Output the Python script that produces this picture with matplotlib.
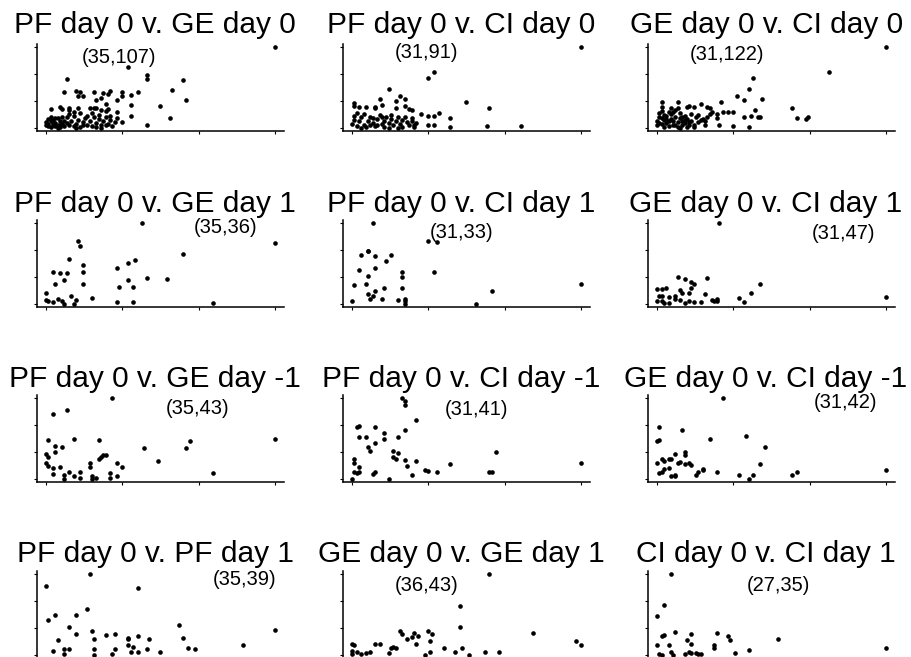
import matplotlib
matplotlib.use("Agg")
import matplotlib.pyplot as plt

plt.rcParams['font.family'] = ['Liberation Sans', 'DejaVu Sans']

# values, scaled 0..100 of each panel's range
pf0_ge0_x = [100, 36, 44, 44, 9, 60, 55, 61, 8, 13,
             15, 14, 16, 21, 25, 22, 24, 28, 27, 33,
             33, 37, 40, 31, 37, 26, 50, 37, 31, 54,
             44, 33, 2, 6, 7, 10, 10, 14, 19, 21,
             22, 24, 26, 27,
             1, 1, 2, 0, 2, 3, 3, 4, 4, 5,
             5, 6, 6, 7, 7, 8, 8, 1, 2, 3,
             0, 4, 5, 6, 9, 10, 9, 11, 12, 12,
             13, 14, 15, 16, 17, 18, 19, 20, 21, 22,
             23, 24, 25, 26, 27, 28, 29, 30, 18, 20,
             23, 15, 12, 10, 28, 31, 13, 16, 22, 24,
             26]
pf0_ge0_y = [100, 75, 65, 61, 60, 59, 47, 35, 45, 46,
             45, 39, 39, 44, 43, 35, 37, 46, 42, 44,
             40, 41, 45, 35, 28, 30, 27, 15, 19, 12,
             3, 7, 23, 26, 23, 25, 22, 24, 24, 24,
             24, 22, 21, 23,
             2, 5, 8, 3, 1, 4, 10, 6, 2, 12,
             3, 8, 1, 5, 14, 2, 9, 11, 14, 6,
             7, 12, 0, 4, 6, 3, 13, 8, 2, 15,
             5, 10, 1, 7, 12, 4, 9, 2, 14, 6,
             11, 3, 8, 13, 5, 10, 2, 7, 15, 18,
             16, 18, 20, 17, 15, 12, 0, 3, 1, 0,
             4]

pf0_ci0_x = [100, 33, 36, 16, 21, 23, 19, 12, 1, 1,
             3, 6, 10, 10, 13, 19, 23, 25, 26, 50,
             60, 30, 33, 36, 38, 43, 43, 59, 74, 33,
             36,
             0, 1, 1, 2, 3, 4, 5, 5, 6, 7,
             8, 9, 10, 11, 12, 13, 14, 14, 15, 16,
             17, 18, 19, 20, 21, 22, 22, 24, 25, 26,
             27, 28, 2, 4, 8, 13, 17, 20, 23, 26,
             27, 9, 11, 16]
pf0_ci0_y = [100, 62, 69, 48, 40, 36, 33, 36, 31, 27,
             26, 26, 25, 26, 28, 25, 27, 23, 22, 32,
             25, 17, 15, 15, 18, 12, 1, 2, 2, 4,
             4,
             5, 10, 15, 2, 8, 13, 4, 17, 1, 9,
             14, 6, 2, 11, 16, 5, 9, 1, 13, 6,
             11, 3, 8, 14, 5, 1, 10, 7, 3, 12,
             1, 6, 18, 0, 3, 14, 16, 0, 13, 9,
             4, 12, 4, 0]

ge0_ci0_x = [100, 75, 42, 40, 35, 38, 46, 43, 41, 44,
             45, 38, 59, 61, 65, 66, 28, 29, 31, 33,
             22, 23, 19, 16, 13, 14, 9, 2, 2, 33,
             40, 24, 26, 26, 27, 21, 19, 18, 16, 16,
             0, 0, 1, 1, 2, 2, 3, 3, 4, 4,
             5, 5, 6, 6, 7, 7, 8, 8, 9, 9,
             10, 10, 11, 11, 12, 12, 13, 13, 14, 2,
             3, 5, 6, 1, 8, 10, 11, 4, 7, 9,
             12, 14, 15, 17, 18, 20, 21, 23, 15, 22]
ge0_ci0_y = [100, 69, 62, 48, 40, 34, 36, 22, 15, 14,
             14, 14, 24, 12, 11, 14, 32, 19, 19, 19,
             26, 25, 30, 26, 26, 27, 32, 32, 26, 2,
             1, 19, 12, 17, 4, 4, 10, 7, 3, 1,
             3, 8, 13, 18, 5, 21, 10, 1, 15, 6,
             20, 2, 11, 17, 4, 8, 14, 22, 1, 7,
             12, 18, 3, 9, 15, 6, 11, 1, 7, 12,
             16, 9, 24, 6, 4, 0, 14, 11, 19, 25,
             10, 4, 8, 13, 16, 11, 8, 17, 17, 13]

pf0_ge1_x = [42, 100, 14, 15, 60, 10, 16, 36, 39, 31,
             3, 6, 9, 16, 8, 4, 16, 44, 53, 36,
             32, 38, 0, 11, 0, 1, 3, 5, 7, 8,
             12, 13, 20, 31, 38, 73]
pf0_ge1_y = [100, 75, 78, 72, 62, 56, 48, 51, 54, 44,
             40, 38, 38, 40, 30, 25, 25, 32, 31, 30,
             21, 21, 13, 10, 5, 4, 2, 6, 4, 0,
             0, 5, 7, 2, 2, 1]

pf0_ci1_x = [9, 33, 37, 7, 7, 4, 10, 17, 15, 3,
             10, 7, 22, 22, 36, 1, 6, 14, 10, 22,
             61, 100, 7, 8, 9, 0, 13, 20, 23, 23,
             23, 54]
pf0_ci1_y = [100, 78, 77, 65, 66, 61, 59, 60, 53, 42,
             44, 34, 39, 33, 40, 23, 25, 20, 16, 19,
             16, 24, 12, 6, 10, 4, 6, 5, 6, 4,
             0, 0]

ge0_ci1_x = [27, 100, 9, 12, 22, 15, 16, 15, 45, 41,
             0, 2, 4, 10, 11, 14, 21, 1, 2, 5,
             8, 8, 10, 12, 14, 16, 19, 0, 2, 3,
             5, 24, 26, 25, 26, 36, 38]
ge0_ci1_y = [100, 8, 33, 31, 32, 27, 25, 20, 25, 13,
             18, 18, 20, 17, 13, 13, 12, 10, 10, 8,
             10, 6, 5, 1, 4, 2, 2, 4, 3, 1,
             1, 5, 6, 3, 3, 7, 2]

pf0_gem1_x = [29, 3, 9, 100, 12, 23, 1, 63, 61, 43,
              4, 7, 4, 0, 1, 25, 24, 23, 26, 49,
              0, 1, 3, 6, 19, 19, 31, 33, 3, 8,
              10, 12, 15, 15, 20, 20, 22, 28, 28, 31,
              8, 73]
pf0_gem1_y = [100, 81, 85, 49, 49, 48, 48, 47, 38, 38,
              41, 39, 33, 31, 27, 30, 27, 25, 29, 22,
              19, 16, 13, 14, 20, 15, 19, 14, 6, 5,
              8, 3, 9, 1, 3, 0, 1, 7, 1, 3,
              0, 7]

pf0_cim1_x = [22, 23, 23, 28, 2, 3, 10, 23, 3, 6,
              14, 14, 20, 10, 7, 8, 18, 20, 18, 19,
              63, 23, 28, 24, 1, 1, 3, 1, 2, 3,
              9, 10, 26, 16, 0, 32, 33, 37, 43, 60,
              61, 100]
pf0_cim1_y = [100, 96, 91, 73, 64, 65, 64, 60, 52, 52,
              57, 49, 52, 44, 39, 35, 34, 32, 27, 25,
              33, 23, 22, 16, 24, 19, 15, 9, 7, 9,
              6, 9, 5, 0, 0, 11, 10, 9, 18, 9,
              9, 20]

ge0_cim1_x = [29, 1, 11, 0, 1, 23, 39, 47, 12, 8,
              12, 0, 2, 3, 5, 6, 9, 10, 12, 14,
              15, 45, 1, 2, 3, 5, 6, 8, 8, 17,
              18, 20, 20, 26, 36, 40, 42, 59, 61, 100]
ge0_cim1_y = [100, 64, 61, 47, 48, 49, 53, 39, 33, 31,
              29, 20, 24, 22, 24, 24, 20, 21, 18, 19,
              17, 18, 7, 9, 12, 13, 4, 4, 5, 5,
              8, 11, 12, 9, 5, 0, 5, 5, 9, 11]

pf0_pf1_x = [19, 0, 40, 18, 1, 4, 13, 10, 58, 100,
             13, 20, 26, 30, 36, 36, 40, 45, 60, 62,
             65, 5, 21, 3, 8, 10, 8, 21, 21, 30,
             29, 36, 38, 37, 40, 44, 50, 86]
pf0_pf1_y = [100, 86, 83, 57, 43, 49, 49, 35, 37, 31,
             26, 30, 25, 26, 19, 21, 23, 19, 21, 9,
             7, 18, 19, 5, 7, 7, 1, 7, 0, 7,
             1, 12, 10, 4, 3, 7, 4, 12]

ge0_ge1_x = [60, 47, 47, 79, 98, 100, 21, 22, 24, 27,
             26, 29, 28, 33, 35, 34, 0, 1, 10, 12,
             17, 18, 19, 16, 0, 0, 2, 4, 6, 8,
             32, 34, 40, 45, 48, 51, 58, 64]
ge0_ge1_y = [100, 61, 35, 27, 17, 12, 30, 26, 19, 27,
             22, 23, 14, 30, 26, 17, 14, 12, 14, 14,
             9, 10, 9, 2, 5, 1, 3, 1, 2, 3,
             0, 4, 8, 3, 8, 0, 3, 3]

ci0_ci1_x = [6, 3, 0, 2, 3, 8, 15, 26, 31, 32,
             53, 0, 5, 13, 15, 25, 25, 40, 34, 1,
             2, 6, 7, 12, 14, 15, 17, 18, 19, 100]
ci0_ci1_y = [100, 62, 48, 23, 25, 28, 26, 27, 23, 18,
             19, 12, 12, 18, 13, 12, 9, 6, 2, 1,
             0, 4, 0, 1, 3, 2, 2, 1, 1, 8]

titles = ["PF day 0 v. GE day 0", "PF day 0 v. CI day 0", "GE day 0 v. CI day 0",
          "PF day 0 v. GE day 1", "PF day 0 v. CI day 1", "GE day 0 v. CI day 1",
          "PF day 0 v. GE day -1", "PF day 0 v. CI day -1", "GE day 0 v. CI day -1",
          "PF day 0 v. PF day 1", "GE day 0 v. GE day 1", "CI day 0 v. CI day 1"]
labels = ["(35,107)", "(31,91)", "(31,122)",
          "(35,36)", "(31,33)", "(31,47)",
          "(35,43)", "(31,41)", "(31,42)",
          "(35,39)", "(36,43)", "(27,35)"]

panels = [(pf0_ge0_x, pf0_ge0_y), (pf0_ci0_x, pf0_ci0_y), (ge0_ci0_x, ge0_ci0_y),
          (pf0_ge1_x, pf0_ge1_y), (pf0_ci1_x, pf0_ci1_y), (ge0_ci1_x, ge0_ci1_y),
          (pf0_gem1_x, pf0_gem1_y), (pf0_cim1_x, pf0_cim1_y), (ge0_cim1_x, ge0_cim1_y),
          (pf0_pf1_x, pf0_pf1_y), (ge0_ge1_x, ge0_ge1_y), (ci0_ci1_x, ci0_ci1_y)]

# where the (x,y) note sits, in axes fractions
label_pos = [(0.33, 0.84), (0.34, 0.90), (0.32, 0.885),
             (0.765, 0.91), (0.48, 0.86), (0.79, 0.85),
             (0.65, 0.84), (0.54, 0.83), (0.80, 0.91),
             (0.84, 0.90), (0.34, 0.83), (0.53, 0.83)]

W, H = 912, 657
fig = plt.figure(figsize=(W / 100, H / 100), dpi=100)

col_left = [37, 343, 648]
row_top = [44, 220, 395, 571]
title_pad = [8, 6, 5.5, 6.5]
aw, ah = 247, 87

for i, (xs, ys) in enumerate(panels):
    assert len(xs) == len(ys)
    r, c = divmod(i, 3)
    ax = fig.add_axes([col_left[c] / W, 1 - (row_top[r] + ah) / H, aw / W, ah / H])
    ax.scatter(xs, ys, s=11, color="black", linewidths=0)
    ax.set_xlim(-4, 104)
    ax.set_ylim(-4, 104)
    ax.set_xticks([0, 100 / 3, 200 / 3, 100])
    ax.set_yticks([0, 100 / 3, 200 / 3, 100])
    ax.set_xticklabels([])
    ax.set_yticklabels([])
    ax.tick_params(length=2.5, width=0.8, direction="out")
    ax.spines["top"].set_visible(False)
    ax.spines["right"].set_visible(False)
    for s in ("left", "bottom"):
        ax.spines[s].set_linewidth(1.1)
    ax.set_title(titles[i], fontsize=21.5, pad=title_pad[r], x=0.478)
    lx, ly = label_pos[i]
    ax.text(lx, ly, labels[i], transform=ax.transAxes, ha="center", va="center",
            fontsize=14.5)

fig.savefig("out.png", dpi=100)
